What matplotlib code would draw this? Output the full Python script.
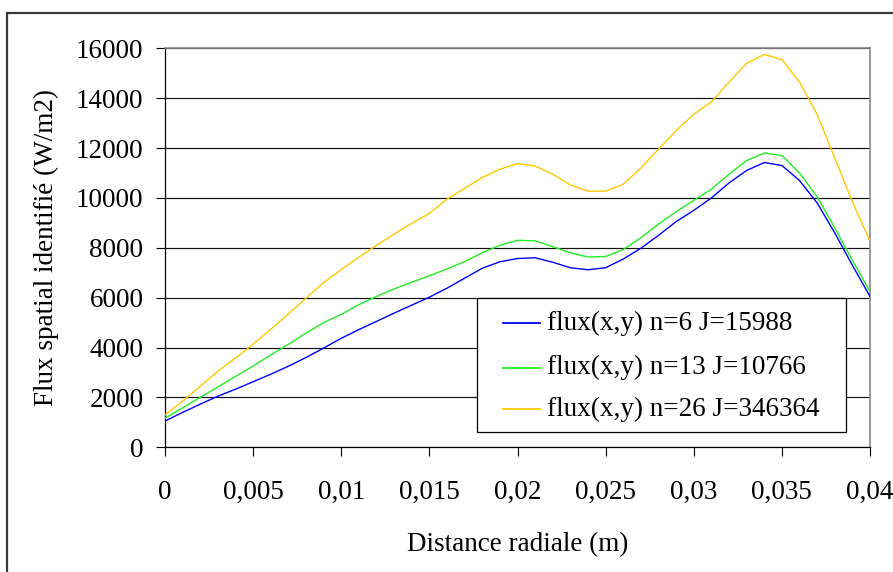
import matplotlib

matplotlib.use("Agg")
import matplotlib.pyplot as plt
from matplotlib.patches import Rectangle
import numpy as np


# radial positions (m), one sample every millimetre
distance_m = np.round(np.arange(0, 0.0401, 0.001), 4)

flux_n6 = [
    1050, 1400, 1730, 2050, 2330, 2630, 2930, 3250, 3600, 3980,
    4370, 4720, 5050, 5380, 5700, 6020, 6380, 6780, 7180, 7440,
    7570, 7600, 7420, 7200, 7120, 7200, 7550, 7980, 8500, 9050,
    9500, 10000, 10600, 11100, 11420, 11300, 10700, 9800, 8600, 7300,
    6050,
]
flux_n13 = [
    1170, 1580, 2000, 2420, 2840, 3260, 3700, 4130, 4580, 5000,
    5330, 5720, 6050, 6350, 6620, 6880, 7150, 7450, 7800, 8100,
    8300, 8280, 8050, 7800, 7630, 7650, 7930, 8400, 8950, 9450,
    9900, 10350, 10950, 11500, 11800, 11700, 11000, 10050, 8800, 7500,
    6240,
]
flux_n26 = [
    1300, 1850, 2450, 3050, 3580, 4130, 4730, 5350, 5980, 6600,
    7130, 7620, 8100, 8550, 8980, 9380, 9950, 10380, 10820, 11150,
    11380, 11280, 10950, 10520, 10270, 10270, 10550, 11200, 11950, 12700,
    13350, 13850, 14650, 15400, 15750, 15550, 14650, 13350, 11600, 9850,
    8270,
]

series_labels = [
    "flux(x,y) n=6 J=15988",
    "flux(x,y) n=13 J=10766",
    "flux(x,y) n=26 J=346364",
]
series_colors = ["#0000FF", "#22EE22", "#FFC800"]

x_ticks = [0, 0.005, 0.01, 0.015, 0.02, 0.025, 0.03, 0.035, 0.04]
x_tick_labels = ["0", "0,005", "0,01", "0,015", "0,02", "0,025", "0,03", "0,035", "0,04"]
y_ticks = list(range(0, 16001, 2000))

FONT = "Liberation Serif"
FS = 19.5


def main() -> None:
    plt.rcParams["font.family"] = [FONT, "DejaVu Serif"]

    fig = plt.figure(figsize=(8.93, 5.72), dpi=100)
    ax = fig.add_axes([165 / 893, 1 - 447.3 / 572, 705 / 893, 399 / 572])

    for values, label, color in zip((flux_n6, flux_n13, flux_n26), series_labels, series_colors):
        ax.plot(distance_m, values, color=color, lw=1.0, label=label, zorder=3)

    ax.set_xlim(0, 0.04)
    ax.set_ylim(0, 16000)
    ax.set_xticks(x_ticks)
    ax.set_xticklabels(x_tick_labels)
    ax.set_yticks(y_ticks)
    ax.set_yticklabels([str(v) for v in y_ticks])

    ax.set_axisbelow(True)
    ax.yaxis.grid(True, color="#111111", lw=0.85)
    ax.xaxis.grid(False)

    ax.tick_params(axis="both", direction="out", length=6.5, width=0.8,
                   color="black", labelsize=FS)
    ax.tick_params(axis="y", pad=9)
    ax.tick_params(axis="x", pad=17)

    for side in ("left", "bottom"):
        ax.spines[side].set_color("black")
        ax.spines[side].set_linewidth(0.9)
    for side in ("top", "right"):
        ax.spines[side].set_color("#888888")
        ax.spines[side].set_linewidth(1.2)

    ax.set_ylabel("Flux spatial identifié (W/m2)", fontsize=FS)
    ax.yaxis.set_label_coords(-(165 - 59) / 705, 0.5)
    fig.text(517.5 / 893, 1 - 545 / 572, "Distance radiale (m)", fontsize=FS,
             ha="center", va="center")

    # Excel-style legend box, wider than its text
    box = Rectangle((0.4426, 0.038), 0.5234, 0.336, transform=ax.transAxes,
                    facecolor="white", edgecolor="black", lw=0.9, zorder=4,
                    clip_on=False)
    ax.add_patch(box)
    row_y = [0.3115, 0.199, 0.096]
    for y, label, color in zip(row_y, series_labels, series_colors):
        ax.plot([0.4794, 0.532], [y, y], transform=ax.transAxes, color=color,
                lw=1.3, zorder=5, clip_on=False)
        ax.text(0.5418, y, label, transform=ax.transAxes, fontsize=FS,
                ha="left", va="center", zorder=5)

    # outer chart frame
    fig.add_artist(Rectangle((7 / 893, -0.05), 1.0, 0.05 + 1 - 13 / 572,
                             transform=fig.transFigure, fill=False,
                             edgecolor="#3a3a3a", lw=1.6))

    fig.savefig("out.png", dpi=100)


if __name__ == "__main__":
    main()
